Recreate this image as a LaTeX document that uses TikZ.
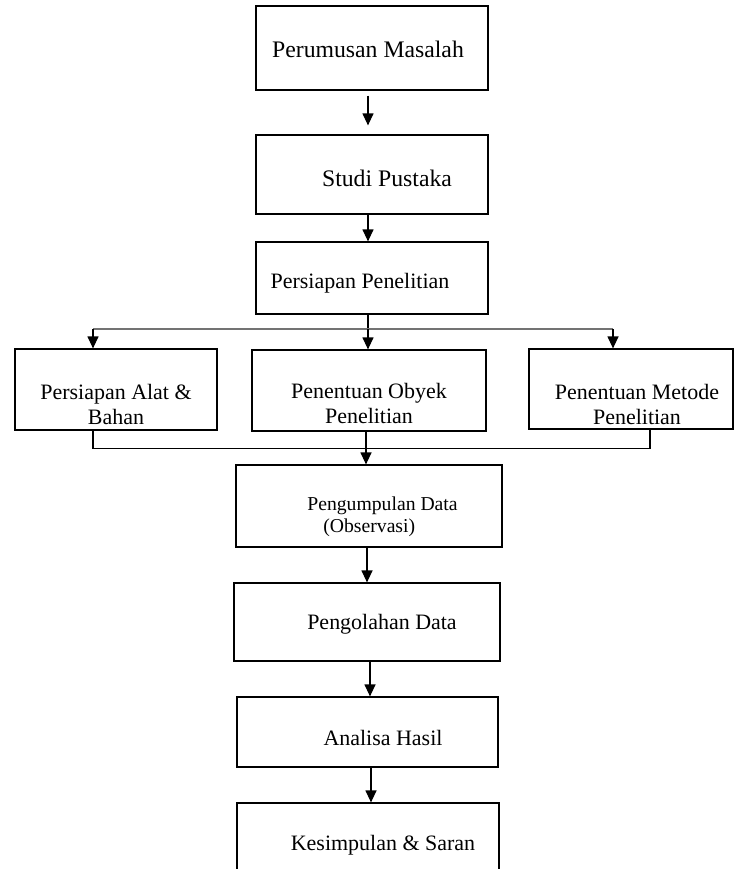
\documentclass[tikz,border=0pt]{standalone}
\usepackage{fontspec}
\setmainfont{Liberation Serif}
\usetikzlibrary{arrows.meta}

\begin{document}
\begin{tikzpicture}[
    kotak/.style={draw=black, line width=0.7pt, inner sep=0pt},
    tulis/.style={inner sep=0pt, align=center, font=\fontsize{12.5}{14.2}\selectfont},
    panah/.style={black, line width=0.7pt, -{Triangle[length=0.24cm,width=0.22cm]}},
    garis/.style={black, line width=0.7pt}]
  \path[use as bounding box, clip] (0,0) rectangle (14.68,-17.38);

  % kotak-kotak
  \node[kotak, minimum width=4.64cm, minimum height=1.68cm] (rumus) at (7.44,-0.96) {};
  \node[tulis, font=\fontsize{13.5}{16}\selectfont] (t-rumus) at (7.36,-0.98) {Perumusan Masalah};
  \node[kotak, minimum width=4.64cm, minimum height=1.58cm] (studi) at (7.44,-3.49) {};
  \node[tulis, font=\fontsize{13.5}{16}\selectfont] (t-studi) at (7.74,-3.56) {Studi Pustaka};
  \node[kotak, minimum width=4.64cm, minimum height=1.44cm] (siap) at (7.44,-5.56) {};
  \node[tulis] (t-siap) at (7.20,-5.66) {Persiapan Penelitian};

  \node[kotak, minimum width=4.04cm, minimum height=1.62cm] (alat) at (2.32,-7.79) {};
  \node[tulis] (t-alat) at (2.32,-8.09) {Persiapan Alat \&\\Bahan};
  \node[kotak, minimum width=4.68cm, minimum height=1.62cm] (obyek) at (7.38,-7.81) {};
  \node[tulis] (t-obyek) at (7.38,-8.07) {Penentuan Obyek\\Penelitian};
  \node[kotak, minimum width=4.08cm, minimum height=1.60cm] (metode) at (12.62,-7.78) {};
  \node[tulis] (t-metode) at (12.74,-8.09) {Penentuan Metode\\Penelitian};

  \node[kotak, minimum width=5.32cm, minimum height=1.64cm] (kumpul) at (7.38,-10.12) {};
  \node[tulis, anchor=west, align=left, font=\fontsize{11.2}{12.5}\selectfont] (t-kumpul) at (6.14,-10.34) {Pengumpulan Data\\\hspace*{0.32cm}(Observasi)};
  \node[kotak, minimum width=5.32cm, minimum height=1.56cm] (olah) at (7.34,-12.44) {};
  \node[tulis] (t-olah) at (7.64,-12.48) {Pengolahan Data};
  \node[kotak, minimum width=5.22cm, minimum height=1.40cm] (analisa) at (7.35,-14.64) {};
  \node[tulis] (t-analisa) at (7.66,-14.76) {Analisa Hasil};
  \node[kotak, minimum width=5.24cm, minimum height=1.74cm] (simpul) at (7.36,-16.93) {};
  \node[tulis] (t-simpul) at (7.66,-16.90) {Kesimpulan \& Saran};

  % panah atas
  \draw[panah, shorten <=0.1cm, shorten >=0.18cm] ([xshift=-0.08cm]rumus.south) -- ([xshift=-0.08cm]studi.north);
  \draw[panah] ([xshift=-0.08cm]studi.south) -- ([xshift=-0.08cm]siap.north);

  % cabang ke tiga kotak
  \coordinate (c1) at (1.86,-6.58);
  \coordinate (c2) at (7.36,-6.58);
  \coordinate (c3) at (12.26,-6.58);
  \draw[garis] (siap.south -| c2) -- (c2);
  \draw[garis, black!55] (c1) -- (c3);
  \draw[panah] (c1) -- (c1 |- alat.north);
  \draw[panah] (c2) -- (c2 |- obyek.north);
  \draw[panah] (c3) -- (c3 |- metode.north);

  % gabung
  \coordinate (g1) at (1.86,-8.97);
  \coordinate (g2) at (7.32,-8.97);
  \coordinate (g3) at (13.00,-8.97);
  \draw[garis] (alat.south -| g1) -- (g1) -- (g3) -- (metode.south -| g3);
  \draw[garis] (obyek.south -| g2) -- (g2);
  \draw[panah] (g2) -- (g2 |- kumpul.north);

  % panah bawah
  \draw[panah] ([xshift=-0.04cm]kumpul.south) -- ([xshift=-0.04cm]kumpul.south |- olah.north);
  \draw[panah] ([xshift=0.06cm]olah.south) -- ([xshift=0.06cm]olah.south |- analisa.north);
  \draw[panah] ([xshift=0.07cm]analisa.south) -- ([xshift=0.07cm]analisa.south |- simpul.north);
\end{tikzpicture}
\end{document}
